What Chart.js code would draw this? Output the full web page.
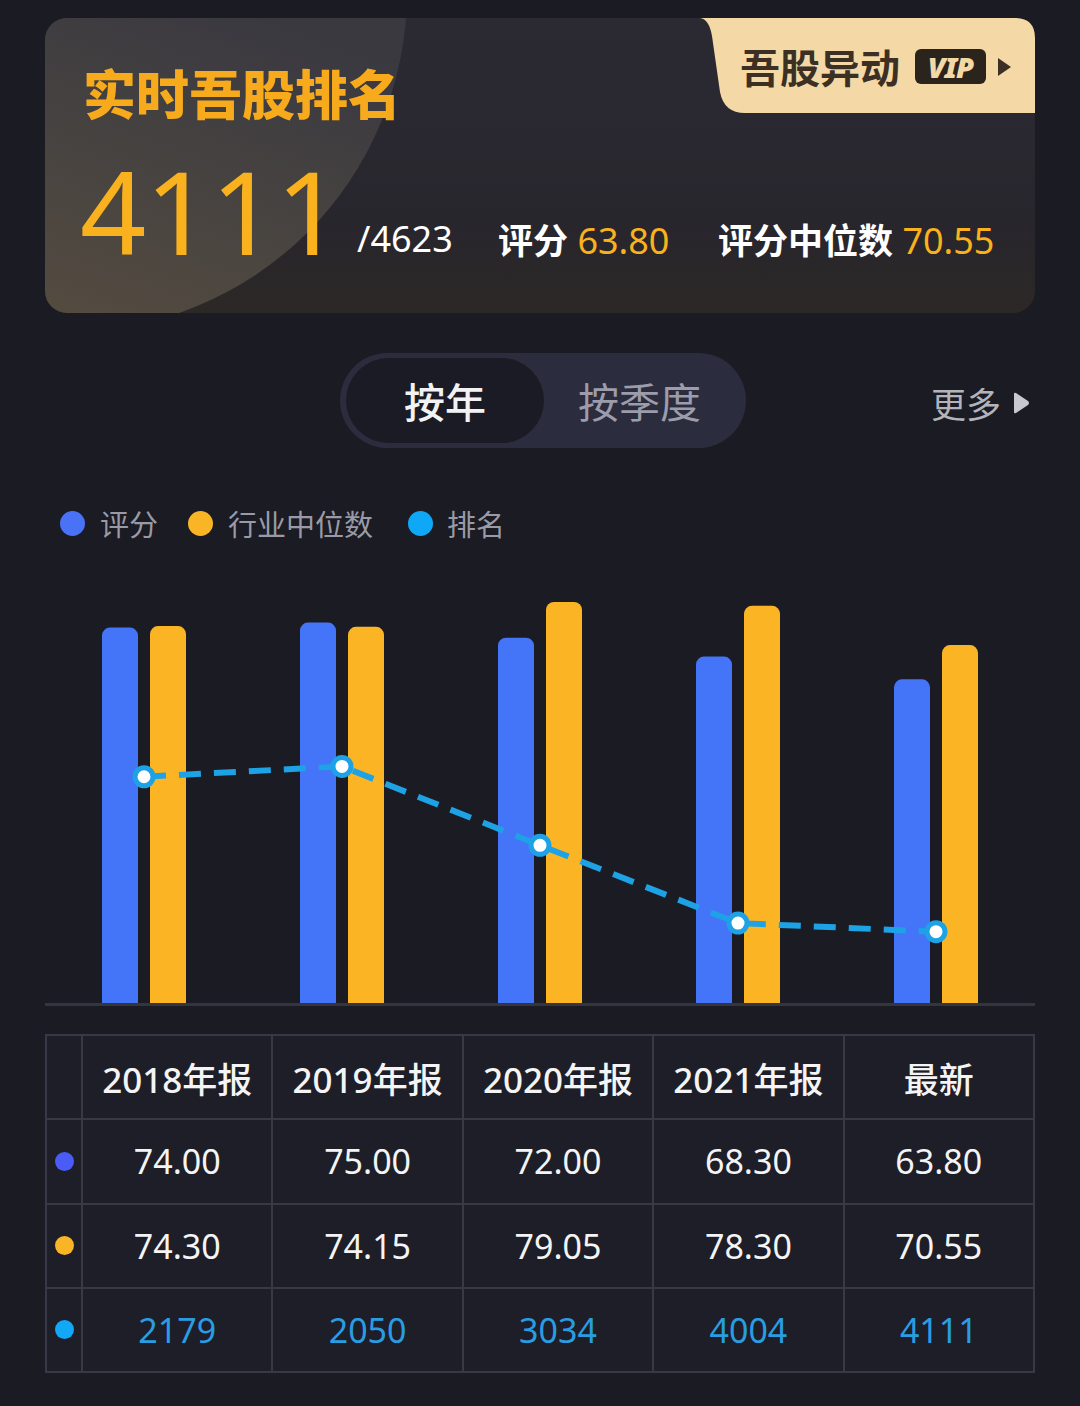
<!DOCTYPE html>
<html>
<head>
<meta charset="utf-8">
<script src="https://cdn.jsdelivr.net/npm/chart.js@4/dist/chart.umd.min.js"></script>
<style>
  html, body { margin:0; padding:0; }
  body { width:1080px; height:1406px; background:#1b1b23; position:relative; overflow:hidden;
         font-family:"Noto Sans","Noto Sans CJK SC",sans-serif; }
  .abs { position:absolute; white-space:nowrap; }
  #card { left:45px; top:18px; width:990px; height:295px; border-radius:22px; overflow:hidden;
          background:linear-gradient(180deg,#2b2a33 0%,#28262d 70%,#2c2826 100%); }
  #glow { position:absolute; left:-318px; top:-366px; width:680px; height:680px; border-radius:50%;
          background:linear-gradient(200deg,#3a3940 45%,#4a4540 70%,#5e5140 100%); }
  #title { left:83px; top:61px; font-family:"Noto Sans CJK SC"; font-weight:900; font-size:53px; line-height:62px; color:#f7ab1c; }
  #big { left:80px; top:152px; font-size:116px; line-height:116px; color:#f9b21d; letter-spacing:-1px; }
  .row { top:221px; font-size:36px; line-height:36px; color:#fff; }
  .cj { font-family:"Noto Sans CJK SC"; font-weight:700; font-size:35px; }
  .yl { color:#f9b21d; }
  #badge { left:700px; top:18px; }
  #badgeText { left:740px; top:43px; font-family:"Noto Sans CJK SC"; font-weight:700; font-size:40px; line-height:46px; color:#3b3023; }
  #vip { left:915px; top:49px; width:71px; height:35px; border-radius:6px; background:#2b241d; color:#f3d9a5;
         font-weight:900; font-style:italic; font-size:29px; line-height:35px; text-align:center; letter-spacing:-1px; }
  #tog { left:340px; top:353px; width:406px; height:95px; border-radius:48px; background:#2b2c3d; }
  #togSel { left:346px; top:358px; width:198px; height:85px; border-radius:43px; background:#1b1b25; }
  .togt { top:378px; font-family:"Noto Sans CJK SC"; font-size:41px; line-height:44px; }
  #more { left:931px; top:383px; font-family:"Noto Sans CJK SC"; font-size:35px; line-height:40px; color:#b3b3bb; }
  .lg { top:505px; font-family:"Noto Sans CJK SC"; font-size:29px; line-height:36px; color:#9a9aa6; }
  .dot { position:absolute; border-radius:50%; }
  #chartWrap { position:absolute; left:0; top:570px; width:1080px; height:450px; }
  #tbl { left:45px; top:1034px; width:990px; height:339px; box-sizing:border-box; padding:2px; background:#383946;
         display:grid; grid-template-columns:34px repeat(5,1fr); grid-template-rows:repeat(4,1fr); gap:2px; }
  .cell { background:#1d1e28; display:flex; align-items:center; justify-content:center; position:relative;
          font-size:34px; color:#f4f4f4; }
  .hd { font-weight:500; font-size:35px; }
</style>
</head>
<body>
<script>
// ---- data ----
const categories = ['2018年报', '2019年报', '2020年报', '2021年报', '最新'];
const scoreValues = [74.00, 75.00, 72.00, 68.30, 63.80];
const medianValues = [74.30, 74.15, 79.05, 78.30, 70.55];
const rankValues = [2179, 2050, 3034, 4004, 4111];
const rankAxisMax = 5000;
const seriesNames = ['评分', '行业中位数', '排名'];
const latestRank = 4111;
const totalStocks = 4623;
const latestScore = '63.80';
const latestMedian = '70.55';
</script>

<div id="card" class="abs"><div id="glow"></div></div>
<svg id="badge" class="abs" width="335" height="96" viewBox="0 0 335 96">
  <path d="M0 0 H315 Q335 0 335 20 V95 H45 Q24 95 20 74 L12 18 Q9 1 0 0 Z" fill="#f4d9a6"/>
  <path d="M298 40 L311 49 L298 58 Z" fill="#3b3023"/>
</svg>
<div id="badgeText" class="abs">吾股异动</div>
<div id="vip" class="abs">VIP</div>

<div id="title" class="abs">实时吾股排名</div>
<div id="big" class="abs"></div>
<div id="r1" class="abs row" style="left:357px"></div>
<div id="r2" class="abs row" style="left:498px"><span class="cj">评分</span> <span class="yl" id="sc"></span></div>
<div id="r3" class="abs row" style="left:718px"><span class="cj">评分中位数</span> <span class="yl" id="md"></span></div>

<div id="tog" class="abs"></div>
<div id="togSel" class="abs"></div>
<div class="abs togt" style="left:404px;color:#f2f2f4;font-weight:500">按年</div>
<div class="abs togt" style="left:578px;color:#9d9cab">按季度</div>
<div id="more" class="abs">更多</div>
<svg class="abs" style="left:1012px;top:392px" width="20" height="22"><path d="M2 2 Q2 0 4 1 L16 9 Q18 11 16 13 L4 21 Q2 22 2 20 Z" fill="#c8c8cf"/></svg>

<div id="legend"></div>

<div id="chartWrap"><canvas id="c"></canvas></div>

<div id="tbl" class="abs"></div>

<script>
document.getElementById('big').textContent = String(latestRank);
document.getElementById('r1').textContent = '/' + totalStocks;
document.getElementById('sc').textContent = latestScore;
document.getElementById('md').textContent = latestMedian;

const legendColors = ['#4a72f7', '#f9b525', '#0ea8f6'];
const legendPos = [{dx:72, tx:100}, {dx:200, tx:228}, {dx:420, tx:447}];
const lg = document.getElementById('legend');
seriesNames.forEach((n, i) => {
  const d = document.createElement('div');
  d.className = 'dot';
  d.style.cssText = `left:${legendPos[i].dx-12.5}px;top:${523-12.5}px;width:25px;height:25px;background:${legendColors[i]}`;
  lg.appendChild(d);
  const t = document.createElement('div');
  t.className = 'abs lg';
  t.style.left = legendPos[i].tx + 'px';
  t.textContent = n;
  lg.appendChild(t);
});

// table
const tbl = document.getElementById('tbl');
function addCell(html, cls, style) {
  const c = document.createElement('div');
  c.className = 'cell ' + (cls || '');
  if (style) c.style.cssText = style;
  c.innerHTML = html;
  tbl.appendChild(c);
}
addCell('', '');
categories.forEach(c => addCell(c, 'hd'));
const tableDots = ['#4a5cf5', '#f9b525', '#12a8f8'];
const rows = [
  scoreValues.map(v => v.toFixed(2)),
  medianValues.map(v => v.toFixed(2)),
  rankValues.map(v => String(v))
];
rows.forEach((r, i) => {
  addCell(`<span style="display:block;flex:0 0 19px;width:19px;height:19px;border-radius:50%;background:${tableDots[i]}"></span>`, '');
  r.forEach(v => addCell(v, '', i === 2 ? 'color:#2a9de2' : ''));
});

const baseline = {
  id: 'baseline',
  beforeDatasetsDraw(chart) {
    const {ctx, chartArea} = chart;
    ctx.save();
    ctx.fillStyle = '#34353f';
    ctx.fillRect(chartArea.left, chartArea.bottom, chartArea.right - chartArea.left, 3);
    ctx.restore();
  }
};

new Chart(document.getElementById('c'), {
  type: 'bar',
  data: {
    labels: categories,
    datasets: [
      {
        type: 'line', label: seriesNames[2], data: rankValues, yAxisID: 'yRank', order: 0,
        borderColor: '#1ea2e6', borderWidth: 6, borderDash: [22, 13], tension: 0, fill: false,
        pointBackgroundColor: '#ffffff', pointBorderColor: '#1ea2e6', pointRadius: 9, pointBorderWidth: 5,
        clip: false
      },
      {
        label: seriesNames[0], data: scoreValues, yAxisID: 'y', order: 1,
        backgroundColor: '#4474f7', borderRadius: {topLeft: 8, topRight: 8, bottomLeft: 0, bottomRight: 0},
        borderSkipped: 'bottom', categoryPercentage: 0.485, barPercentage: 0.75
      },
      {
        label: seriesNames[1], data: medianValues, yAxisID: 'y', order: 1,
        backgroundColor: '#fbb424', borderRadius: {topLeft: 8, topRight: 8, bottomLeft: 0, bottomRight: 0},
        borderSkipped: 'bottom', categoryPercentage: 0.485, barPercentage: 0.75
      }
    ]
  },
  options: {
    responsive: true, maintainAspectRatio: false, animation: false,
    layout: { padding: { left: 45, right: 45, top: 32, bottom: 17 } },
    plugins: { legend: { display: false }, tooltip: { enabled: false } },
    scales: {
      x: { display: false, offset: true },
      y: { display: false, min: 0, max: Math.max(...scoreValues, ...medianValues) },
      yRank: { display: false, reverse: true, min: 0, max: rankAxisMax }
    }
  },
  plugins: [baseline]
});
</script>
</body>
</html>
